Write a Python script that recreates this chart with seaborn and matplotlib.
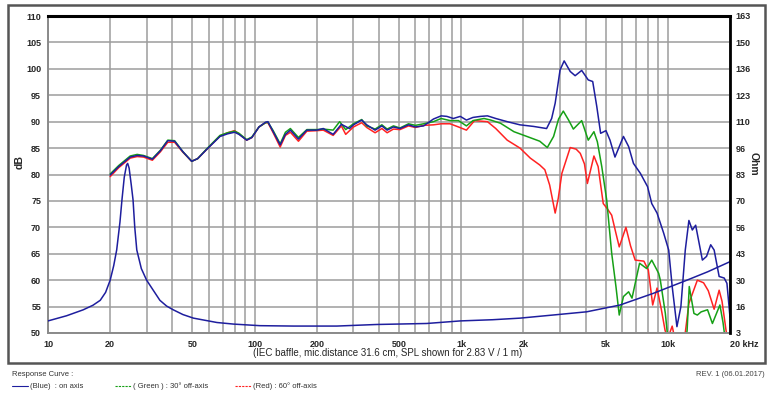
import matplotlib.pyplot as plt
import seaborn as sns
from matplotlib.patches import Rectangle
from matplotlib.lines import Line2D

# frequency response, (Hz, dB)
blue_spl = [
    (20, 79.9), (22, 81.5), (25, 83.3), (27, 83.6), (29, 83.5), (32, 82.9), (35, 84.5),
    (38, 86.4), (41, 86.3), (45, 84.3), (49.6, 82.5), (53, 83.0), (58.8, 84.8), (68, 87.2),
    (74, 87.7), (80, 88.0), (84, 87.6), (91.6, 86.5), (97, 87.0), (105, 89.0), (113, 89.9),
    (116, 90.0), (123, 88.1), (133, 85.6), (141, 87.6), (149, 88.4), (163, 86.7), (179, 88.4),
    (200, 88.4), (215, 88.7), (240, 87.6), (263, 89.5), (288, 88.7), (301, 89.4), (330, 90.3),
    (349, 89.4), (383, 88.4), (413, 89.2), (438, 88.4), (470, 89.0), (505, 88.7), (556, 89.4),
    (600, 89.0), (658, 89.2), (734, 90.5), (800, 91.1), (852, 91.0), (916, 90.6), (990, 91.0),
    (1060, 90.3), (1140, 90.8), (1240, 91.0), (1340, 91.1), (1470, 90.6), (1670, 90.0),
    (1925, 89.4), (2240, 89.1), (2590, 88.7), (2740, 90.6), (2850, 93.5), (3010, 99.8),
    (3150, 101.5), (3370, 99.5), (3560, 98.7), (3830, 99.7), (4120, 97.9), (4330, 97.6),
    (4530, 92.9), (4730, 87.8), (5020, 88.3), (5250, 86.5), (5550, 83.3), (6100, 87.2),
    (6460, 85.3), (6820, 82.1), (7370, 80.2), (7980, 77.7), (8360, 74.5), (8870, 72.7),
    (9550, 68.9), (10100, 65.7), (10500, 58.8), (11070, 51.2), (11570, 55.0), (12150, 65.7),
    (12650, 71.3), (13140, 69.5), (13640, 70.4), (14700, 63.8), (15400, 64.5), (16130, 66.7),
    (16760, 65.7), (17720, 60.7), (18750, 60.4), (19330, 59.4), (20000, 53.0),
]

green_spl = [
    (20, 80.1), (22, 81.7), (25, 83.5), (27, 83.8), (29, 83.6), (32, 83.0), (35, 84.6),
    (38, 86.5), (41, 86.4), (45, 84.3), (49.6, 82.5), (53, 83.0), (58.8, 84.9), (68, 87.4),
    (74, 87.9), (80, 88.2), (84, 87.8), (91.6, 86.6), (97, 87.1), (105, 89.0), (113, 89.8),
    (116, 89.9), (123, 88.3), (133, 85.8), (141, 88.0), (149, 88.7), (163, 87.0), (179, 88.5),
    (200, 88.5), (215, 88.6), (240, 88.4), (258, 90.0), (276, 88.5), (301, 89.6), (330, 90.4),
    (349, 89.2), (383, 88.6), (413, 89.4), (438, 88.6), (470, 89.2), (505, 88.8), (556, 89.6),
    (600, 89.3), (658, 89.6), (734, 90.0), (800, 90.6), (883, 90.2), (970, 90.2), (1060, 89.2),
    (1140, 90.2), (1290, 90.6), (1390, 90.3), (1550, 89.7), (1800, 88.1), (2080, 87.2),
    (2400, 86.3), (2610, 85.1), (2800, 87.2), (2960, 90.5), (3120, 92.0), (3310, 90.3),
    (3490, 88.6), (3830, 90.2), (4120, 86.5), (4390, 88.1), (4560, 86.2), (4790, 81.5),
    (5060, 75.2), (5350, 65.1), (5610, 58.8), (5820, 53.4), (6100, 56.9), (6460, 57.8),
    (6710, 56.6), (7300, 63.2), (7900, 62.2), (8360, 63.8), (9030, 61.3), (9200, 60.0),
    (9730, 53.7), (10000, 49.0), (10500, 46.0), (12000, 46.0), (12400, 50.5), (12700, 58.8),
    (13380, 53.7), (13900, 53.4), (14500, 54.0), (15570, 54.4), (16440, 51.8), (17870, 55.3),
    (18500, 52.0), (19000, 48.5),
]

red_spl = [
    (20, 79.6), (22, 81.3), (25, 83.1), (27, 83.4), (29, 83.3), (32, 82.7), (35, 84.3),
    (38, 86.1), (41, 86.1), (45, 84.2), (49.6, 82.5), (53, 83.0), (58.8, 84.8), (68, 87.3),
    (74, 87.9), (80, 88.3), (84, 87.7), (91.6, 86.5), (97, 87.0), (105, 89.0), (113, 89.8),
    (116, 89.8), (123, 87.9), (133, 85.2), (141, 87.4), (149, 88.0), (163, 86.3), (179, 88.2),
    (200, 88.3), (215, 88.4), (240, 87.4), (263, 89.2), (276, 87.6), (301, 89.0), (330, 89.8),
    (349, 88.9), (383, 87.9), (413, 88.7), (438, 87.9), (470, 88.6), (505, 88.5), (556, 89.2),
    (600, 88.9), (658, 89.3), (734, 89.4), (800, 89.6), (883, 89.6), (970, 89.0), (1060, 88.4),
    (1160, 90.2), (1340, 90.0), (1470, 88.7), (1670, 86.5), (1925, 85.0), (2160, 83.1),
    (2400, 81.8), (2540, 80.9), (2680, 78.0), (2850, 72.7), (2950, 75.5), (3070, 80.2),
    (3370, 85.1), (3600, 84.8), (3770, 84.0), (3950, 82.0), (4080, 78.3), (4390, 83.5),
    (4600, 81.5), (4870, 74.5), (5100, 73.5), (5350, 72.3), (5600, 69.0), (5820, 66.3),
    (6270, 70.0), (6600, 66.5), (6950, 63.8), (7660, 63.6), (8050, 61.9), (8450, 55.3),
    (8870, 58.5), (9300, 54.5), (9700, 50.5), (10000, 49.0), (10500, 51.3), (10800, 49.0),
    (11500, 46.0), (12100, 49.5), (12650, 55.6), (13900, 60.0), (14900, 59.5), (15700, 58.0),
    (16760, 54.5), (17720, 58.1), (18300, 56.0), (19120, 50.6), (19600, 48.0),
]

# impedance, (Hz, Ohm)
impedance = [
    (10, 9.1), (12.3, 11.7), (14.8, 14.7), (16.5, 17.0), (17.9, 19.5), (19.0, 23.5),
    (20, 29.7), (20.8, 37.0), (21.5, 44.9), (22.3, 59.0), (22.8, 70.2), (23.4, 81.7),
    (24.0, 87.8), (24.3, 88.6), (24.7, 86.2), (25.3, 77.7), (25.8, 70.2), (26.3, 56.3),
    (26.9, 44.9), (28.3, 35.5), (30, 29.7), (32.4, 24.4), (34.8, 19.5), (37.5, 16.6),
    (40.4, 14.7), (45, 12.3), (50.6, 10.5), (65.7, 8.3), (79, 7.5), (106, 6.7), (154, 6.5),
    (250, 6.5), (390, 7.3), (680, 7.8), (990, 9.1), (1420, 9.7), (1925, 10.5), (2800, 12.1),
    (4050, 13.7), (5860, 17.1), (8500, 23.0), (12400, 29.7), (15600, 33.9), (20000, 39.0),
]

x_tick_pos = [10, 20, 50, 100, 200, 500, 1000, 2000, 5000, 10000, 20000]
x_tick_labels = ["10", "20", "50", "100", "200", "500", "1k", "2k", "5k", "10k", "20 kHz"]
db_ticks = [50, 55, 60, 65, 70, 75, 80, 85, 90, 95, 100, 105, 110]
ohm_labels = ["3", "16", "30", "43", "56", "70", "83", "96", "110", "123", "136", "150", "163"]

BLUE = "#1e1e9e"
GREEN = "#16a016"
RED = "#ff2222"
GRID = "#9c9c9c"

sns.set_style("white")
plt.rcParams["font.family"] = ["Liberation Sans", "DejaVu Sans"]

W, H = 778, 396
fig = plt.figure(figsize=(W / 100, H / 100), dpi=100)
ax = fig.add_axes([48 / W, 1 - 333 / H, 682 / W, 317 / H])
ax.set_xscale("log")

for data, col in [(red_spl, RED), (green_spl, GREEN), (blue_spl, BLUE)]:
    f, v = zip(*data)
    sns.lineplot(x=list(f), y=list(v), ax=ax, color=col, lw=1.1)

ax.set_xlim(10, 20000)
ax.set_ylim(50, 110)

grid_freq = [m * 10 ** e for e in range(1, 5) for m in range(1, 10) if m * 10 ** e <= 20000]
ax.set_xticks(grid_freq, minor=True)
ax.xaxis.set_minor_formatter(plt.NullFormatter())
ax.set_xticks(x_tick_pos, x_tick_labels)
ax.set_yticks(db_ticks, [str(t) for t in db_ticks])
ax.grid(True, which="both", axis="x", color=GRID, lw=1.1)
ax.grid(True, which="major", axis="y", color=GRID, lw=1.1)
ax.tick_params(which="both", length=0)
ax.tick_params(axis="x", pad=5, labelsize=6.5)
ax.tick_params(axis="y", pad=5, labelsize=6.5)
for lab in ax.get_xticklabels() + ax.get_yticklabels():
    lab.set_fontweight("bold")
ax.get_xticklabels()[-1].set_horizontalalignment("left")
ax.set_xlabel("")
ax.set_ylabel("")

for side in ["left", "bottom"]:
    ax.spines[side].set_color("#8a8a8a")
    ax.spines[side].set_linewidth(1.4)
ax.spines["top"].set_color("black")
ax.spines["top"].set_linewidth(2.2)
ax.spines["right"].set_visible(False)

# impedance on the right-hand Ohm scale
ax2 = ax.twinx()
f, z = zip(*impedance)
sns.lineplot(x=list(f), y=list(z), ax=ax2, color=BLUE, lw=1.1)
ax2.set_ylim(3, 163)
ax2.set_yticks([3 + k * 160 / 12 for k in range(13)], ohm_labels)
ax2.tick_params(length=0, pad=4, labelsize=6.5)
for lab in ax2.get_yticklabels():
    lab.set_fontweight("bold")
ax2.set_ylabel("")
for side in ["left", "top", "bottom"]:
    ax2.spines[side].set_visible(False)
ax2.spines["right"].set_color("black")
ax2.spines["right"].set_linewidth(2.0)

fig.text(20 / W, 1 - 162 / H, "dB", rotation=90, ha="center", va="center",
         fontsize=7.5, fontweight="bold")
fig.text(754 / W, 1 - 164 / H, "Ohm", rotation=270, ha="center", va="center",
         fontsize=7.5, fontweight="bold")
fig.text(388 / W, 1 - 353 / H, "(IEC baffle, mic.distance 31.6 cm, SPL shown for 2.83 V / 1 m)",
         ha="center", va="center", fontsize=7)

# outer frame
fig.patches.append(Rectangle((8 / W, 1 - 363 / H), 757 / W, 358 / H, transform=fig.transFigure,
                             fill=False, ec="#555555", lw=1.8))

# bottom legend
fig.text(12 / W, 1 - 374 / H, "Response Curve :", ha="left", va="center", fontsize=5.5, color="#333333")
fig.text(765 / W, 1 - 374 / H, "REV. 1 (06.01.2017)", ha="right", va="center", fontsize=5.5, color="#444444")
legend_items = [
    (12, BLUE, "-", "(Blue)  : on axis"),
    (115, GREEN, (0, (2, 1)), "( Green ) : 30° off-axis"),
    (235, RED, (0, (2, 1)), "(Red) : 60° off-axis"),
]
for x0, col, ls, txt in legend_items:
    fig.add_artist(Line2D([x0 / W, (x0 + 16) / W], [1 - 386 / H] * 2, color=col, lw=0.8, ls=ls,
                          transform=fig.transFigure))
    fig.text((x0 + 18) / W, 1 - 386 / H, txt, ha="left", va="center", fontsize=5.5, color="#333333")

fig.savefig("out.png", dpi=100)
